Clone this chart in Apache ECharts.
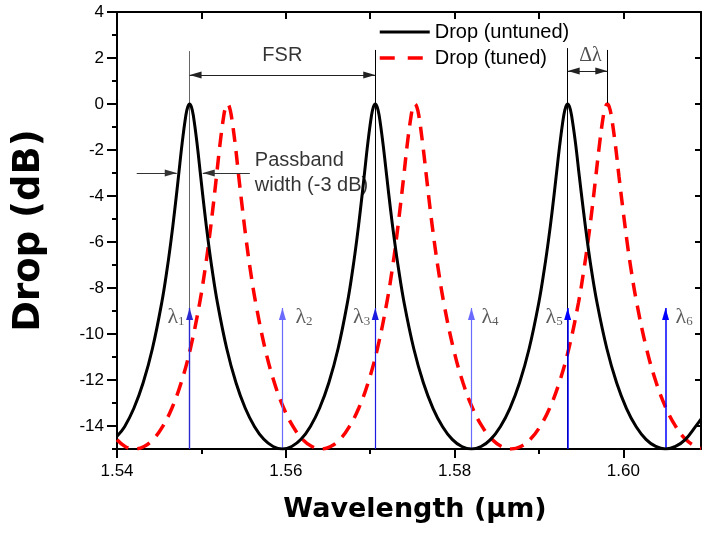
<!DOCTYPE html>
<html><head><meta charset="utf-8">
<script src="https://cdn.jsdelivr.net/npm/echarts@6/dist/echarts.min.js"></script>
<style>html,body{margin:0;padding:0;background:#fff}#c{width:702px;height:538px}</style>
</head><body><div id="c"></div>
<script>
// ---------- data ----------
const seriesNames = ['Drop (untuned)', 'Drop (tuned)'];

const untunedWl = [1.5400,1.5409,1.5420,1.5431,1.5442,1.5453,1.54596,1.5464,1.54684,1.54728,1.54772,1.54816,1.54838,1.5486,1.54882,1.54904,1.54948,1.54992,1.55036,1.5508,1.55124,1.5519,1.5530,1.5541,1.5552,1.5563,1.5574,1.5585,1.5596,1.5607,1.5618,1.5629,1.5640,1.5651,1.5662,1.5673,1.56796,1.5684,1.56884,1.56928,1.56972,1.57016,1.57038,1.5706,1.57083,1.57106,1.57151,1.57197,1.57242,1.57288,1.57334,1.57402,1.57516,1.5763,1.57744,1.57858,1.57972,1.58086,1.5820,1.58314,1.58428,1.58542,1.58656,1.5877,1.58884,1.58998,1.59066,1.59112,1.59158,1.59203,1.59249,1.59294,1.59317,1.5934,1.59363,1.59386,1.59433,1.59479,1.59526,1.59572,1.59618,1.59688,1.59804,1.5992,1.60036,1.60152,1.60268,1.60384,1.6050,1.60618,1.60736,1.60854,1.6092];
const untunedDb = [-14.45,-14.03,-13.23,-12.12,-10.63,-8.64,-7.12,-5.94,-4.61,-3.17,-1.70,-0.49,-0.13,0,-0.13,-0.49,-1.70,-3.17,-4.61,-5.94,-7.12,-8.64,-10.63,-12.12,-13.23,-14.03,-14.58,-14.89,-15.0,-14.89,-14.58,-14.03,-13.23,-12.12,-10.63,-8.64,-7.12,-5.94,-4.61,-3.17,-1.70,-0.49,-0.13,0,-0.13,-0.49,-1.70,-3.17,-4.61,-5.94,-7.12,-8.64,-10.63,-12.12,-13.23,-14.03,-14.58,-14.89,-15.0,-14.89,-14.58,-14.03,-13.23,-12.12,-10.63,-8.64,-7.12,-5.94,-4.61,-3.17,-1.70,-0.49,-0.13,0,-0.13,-0.49,-1.70,-3.17,-4.61,-5.94,-7.12,-8.64,-10.63,-12.12,-13.23,-14.03,-14.58,-14.89,-15.0,-14.89,-14.58,-14.03,-13.7];

const tunedWl = [1.5400,1.5410,1.5421,1.5432,1.5443,1.5454,1.5465,1.5476,1.5487,1.5498,1.55046,1.5509,1.55134,1.55178,1.55222,1.55266,1.55288,1.5531,1.55332,1.55354,1.55399,1.55443,1.55488,1.55532,1.55576,1.55643,1.55754,1.55865,1.55976,1.56087,1.56198,1.56309,1.5642,1.56531,1.56642,1.56753,1.56864,1.56975,1.57086,1.57197,1.57264,1.57308,1.57352,1.57397,1.57441,1.57486,1.57508,1.5753,1.57553,1.57576,1.57621,1.57667,1.57712,1.57758,1.57804,1.57872,1.57986,1.581,1.58214,1.58328,1.58442,1.58556,1.5867,1.58784,1.58898,1.59012,1.59126,1.5924,1.59354,1.59468,1.59536,1.59582,1.59628,1.59673,1.59719,1.59764,1.59787,1.5981,1.59833,1.59856,1.59903,1.59949,1.59996,1.60042,1.60088,1.60158,1.60274,1.6039,1.60506,1.60622,1.60738,1.60854,1.6092];
const tunedDb = [-14.6,-14.9,-15.0,-14.89,-14.58,-14.03,-13.23,-12.12,-10.63,-8.64,-7.12,-5.94,-4.61,-3.17,-1.70,-0.49,-0.13,0,-0.13,-0.49,-1.70,-3.17,-4.61,-5.94,-7.12,-8.64,-10.63,-12.12,-13.23,-14.03,-14.58,-14.89,-15.0,-14.89,-14.58,-14.03,-13.23,-12.12,-10.63,-8.64,-7.12,-5.94,-4.61,-3.17,-1.70,-0.49,-0.13,0,-0.13,-0.49,-1.70,-3.17,-4.61,-5.94,-7.12,-8.64,-10.63,-12.12,-13.23,-14.03,-14.58,-14.89,-15.0,-14.89,-14.58,-14.03,-13.23,-12.12,-10.63,-8.64,-7.12,-5.94,-4.61,-3.17,-1.70,-0.49,-0.13,0,-0.13,-0.49,-1.70,-3.17,-4.61,-5.94,-7.12,-8.64,-10.63,-12.12,-13.23,-14.03,-14.58,-14.89,-14.97];

const xMajorTicks = [1.54, 1.56, 1.58, 1.60];
const xMinorTicks = [1.55, 1.57, 1.59];
const xTopTicks = [1.55, 1.56, 1.57, 1.58, 1.59, 1.60];
const yMajorTicks = [4, 2, 0, -2, -4, -6, -8, -10, -12, -14];
const yMinorTicks = [3, 1, -1, -3, -5, -7, -9, -11, -13, -15];

// channel wavelengths (blue arrows) and their labels
const channelWl = [1.5486, 1.5596, 1.5706, 1.5820, 1.5934, 1.6050];
const channelNames = ['1', '2', '3', '4', '5', '6'];
const channelTop = -8.87;
// resonance markers
const untunedPeaks = [1.5486, 1.5706, 1.5934];
const untunedPeakLineTop = [2.3, 2.35, 2.43];
const tunedPeak3 = 1.5981;
const fsrLevel = 1.26, dlLevel = 1.43, halfLevel = -3;
const passbandLeftArrow = [1.54234, 1.54708];
const passbandRightArrow = [1.55574, 1.55016];

// ---------- build ----------
const zip = (a, b) => a.map((v, i) => [v, b[i]]);
const SANS = 'Liberation Sans, Arial, sans-serif';
const SERIF = 'Liberation Serif, Times New Roman, serif';
const XMIN = 1.54, XMAX = 1.6092, YMIN = -15, YMAX = 4;

function seg(p1, p2, opt) {
  opt = opt || {};
  const size = opt.size || [7, 12];
  const head = { symbol: 'triangle', symbolSize: size, symbolOffset: [0, size[1] / 2] };
  const a = Object.assign({ coord: p1, symbol: 'none' }, opt.startArrow ? head : {});
  const b = Object.assign({ coord: p2, symbol: 'none' }, opt.endArrow ? head : {});
  a.lineStyle = { color: opt.color || '#000', width: opt.width || 1, type: 'solid' };
  a.itemStyle = { color: opt.headColor || opt.color || '#000' };
  b.itemStyle = { color: opt.headColor || opt.color || '#000' };
  return [a, b];
}

const annLines = [];
untunedPeaks.forEach((p, i) => annLines.push(seg([p, untunedPeakLineTop[i]], [p, YMIN], { color: i === 0 ? '#666' : '#000' })));
annLines.push(seg([tunedPeak3, 2.35], [tunedPeak3, 0.04], {}));
annLines.push(seg([untunedPeaks[0], fsrLevel], [untunedPeaks[1], fsrLevel], { startArrow: true, endArrow: true, color: '#222' }));
annLines.push(seg([untunedPeaks[2], dlLevel], [tunedPeak3, dlLevel], { startArrow: true, endArrow: true, color: '#222' }));
annLines.push(seg([passbandLeftArrow[0], halfLevel], [passbandLeftArrow[1], halfLevel], { endArrow: true, color: '#333' }));
annLines.push(seg([passbandRightArrow[0], halfLevel], [passbandRightArrow[1], halfLevel], { endArrow: true, color: '#333' }));
const blueCols = ['#2a2ad0', '#6a6aff', '#1a1ae0', '#6a6aff', '#0000ff', '#0000ff'];
const blueWidths = [1.4, 1.2, 1.2, 1.2, 1.5, 1.5];
channelWl.forEach((w, i) => annLines.push(seg([w, YMIN], [w, channelTop], { endArrow: true, color: blueCols[i], headColor: '#0000ff', width: blueWidths[i], size: [7, 12] })));

const lamRich = {
  l: { fontFamily: SERIF, fontSize: 22, color: '#333' },
  s: { fontFamily: SERIF, fontSize: 13, color: '#333', verticalAlign: 'bottom' }
};
const notes = [
  { value: [1.55959, 2.11], label: { formatter: 'FSR', fontSize: 20 } },
  { value: [1.59611, 2.09], label: { formatter: 'Δλ', fontFamily: SERIF, fontSize: 20, color: '#222' } },
  { value: [1.55633, -2.98], label: { formatter: 'Passband\nwidth (-3 dB)', fontSize: 20, align: 'left', lineHeight: 25 } }
];
channelWl.forEach((w, i) => {
  const leftSide = i % 2 === 0;
  notes.push({
    value: [w, -9.26],
    label: {
      formatter: '{l|λ}{s|' + channelNames[i] + '}', rich: lamRich,
      position: leftSide ? 'left' : 'right', distance: leftSide ? 5 : (i === 1 ? 13 : 10)
    }
  });
});

const axisLine = { show: true, onZero: false, lineStyle: { color: '#000', width: 2 } };
const tickStyle = { color: '#000', width: 2 };

const option = {
  animation: false,
  backgroundColor: '#fff',
  grid: { left: 117, right: 1, top: 12, bottom: 89, outerBoundsMode: 'none', containLabel: false },
  legend: {
    orient: 'vertical', left: 378, top: 22, padding: 0, itemGap: 6,
    itemWidth: 50, itemHeight: 14,
    itemStyle: { opacity: 0 },
    textStyle: { fontFamily: SANS, fontSize: 20, color: '#000' },
    data: [
      { name: seriesNames[0], lineStyle: { width: 3, color: '#000' } },
      { name: seriesNames[1], lineStyle: { width: 3.5, color: '#ff0000', type: [15, 13] } }
    ]
  },
  xAxis: [
    {
      type: 'value', min: XMIN, max: XMAX, position: 'bottom',
      axisLine: axisLine, splitLine: { show: false },
      axisTick: { show: true, customValues: xMajorTicks, length: 9, lineStyle: tickStyle },
      axisLabel: { customValues: xMajorTicks, formatter: v => v.toFixed(2), fontFamily: SANS, fontSize: 17, color: '#000', margin: 14 },
      name: 'Wavelength (μm)', nameLocation: 'middle', nameGap: 47,
      nameTextStyle: { fontFamily: 'DejaVu Sans', fontWeight: 'bold', fontSize: 27, color: '#000', padding: [0, 0, 0, 12] }
    },
    {
      type: 'value', min: XMIN, max: XMAX, position: 'bottom',
      axisLine: { show: false, onZero: false }, splitLine: { show: false },
      axisTick: { show: true, customValues: xMinorTicks, length: 5, lineStyle: tickStyle },
      axisLabel: { show: false }
    },
    {
      type: 'value', min: XMIN, max: XMAX, position: 'top',
      axisLine: axisLine, splitLine: { show: false },
      axisTick: { show: true, inside: true, customValues: xTopTicks, length: 7, lineStyle: tickStyle },
      axisLabel: { show: false }
    }
  ],
  yAxis: [
    {
      type: 'value', min: YMIN, max: YMAX, position: 'left',
      axisLine: axisLine, splitLine: { show: false },
      axisTick: { show: true, customValues: yMajorTicks, length: 10, lineStyle: tickStyle },
      axisLabel: { customValues: yMajorTicks, fontFamily: SANS, fontSize: 17, color: '#000', margin: 13 },
      name: 'Drop (dB)', nameLocation: 'middle', nameGap: 69,
      nameTextStyle: { fontFamily: 'DejaVu Sans', fontWeight: 'bold', fontSize: 37, color: '#000' }
    },
    {
      type: 'value', min: YMIN, max: YMAX, position: 'left',
      axisLine: { show: false, onZero: false }, splitLine: { show: false },
      axisTick: { show: true, customValues: yMinorTicks, length: 5, lineStyle: tickStyle },
      axisLabel: { show: false }
    },
    {
      type: 'value', min: YMIN, max: YMAX, position: 'right',
      axisLine: axisLine, splitLine: { show: false },
      axisTick: { show: true, inside: true, customValues: yMajorTicks, length: 6, lineStyle: tickStyle },
      axisLabel: { show: false }
    }
  ],
  series: [
    {
      name: 'annotations', type: 'line', data: [], silent: true, z: 3,
      markLine: {
        silent: true, animation: false, symbol: ['none', 'none'],
        label: { show: false }, emphasis: { disabled: true },
        data: annLines
      }
    },
    {
      name: seriesNames[1], type: 'line', data: zip(tunedWl, tunedDb),
      symbol: 'none', smooth: 0.4, z: 4,
      lineStyle: { color: '#ff0000', width: 3.5, type: [14, 9] }, itemStyle: { color: '#ff0000' }
    },
    {
      name: seriesNames[0], type: 'line', data: zip(untunedWl, untunedDb),
      symbol: 'none', smooth: 0.4, z: 5,
      lineStyle: { color: '#000', width: 3 }, itemStyle: { color: '#000' }
    },
    {
      name: 'notes', type: 'scatter', data: notes, symbolSize: 0, silent: true, z: 6,
      itemStyle: { color: 'transparent' },
      label: { show: true, position: 'inside', fontFamily: SANS, fontSize: 20, color: '#000' }
    }
  ]
};
const chart = echarts.init(document.getElementById('c'), null, { renderer: 'canvas' });
chart.setOption(option);
</script></body></html>
